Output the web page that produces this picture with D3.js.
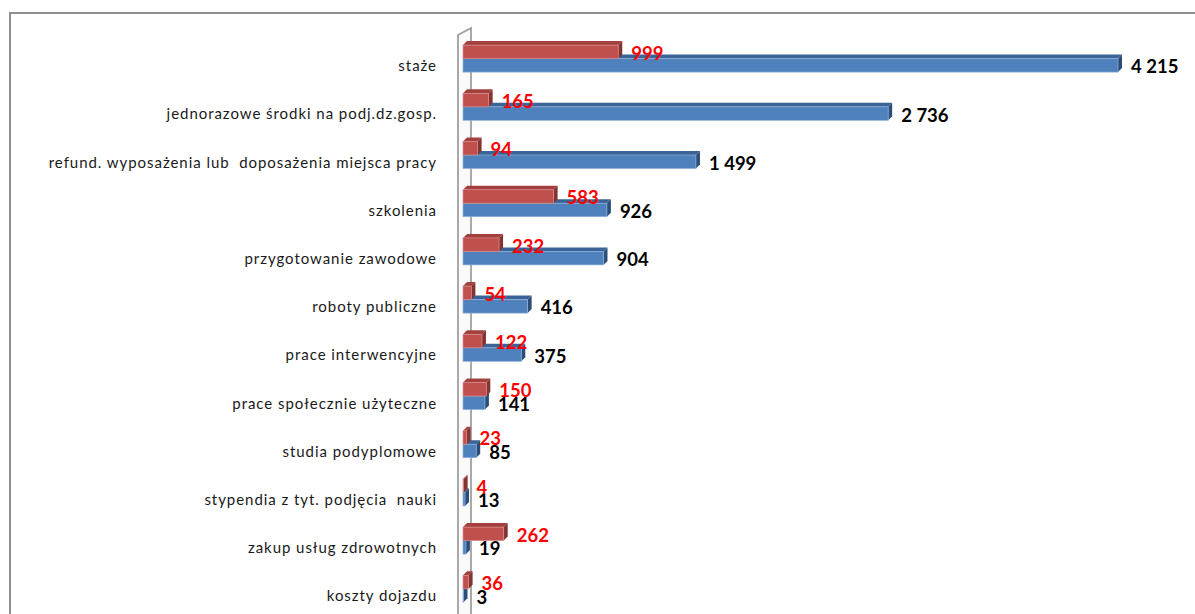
<!DOCTYPE html>
<html lang="pl">
<head>
<meta charset="UTF-8">
<title>Formy aktywizacji</title>
<script src="https://d3js.org/d3.v7.min.js"></script>
<style>
  body { margin: 0; background: #fff; }
  svg { display: block; }
  .cat { font-family: Lato, "Open Sans", sans-serif; font-size: 15px; fill: #1a1a1a; letter-spacing: 0.95px; white-space: pre; }
  .val { font-family: Lato, "Open Sans", sans-serif; font-size: 18.5px; font-weight: bold; }
</style>
</head>
<body>
<svg id="chart" width="1195" height="614"></svg>
<script>
// categories, top to bottom
const categories = [
  "staże",
  "jednorazowe środki na podj.dz.gosp.",
  "refund. wyposażenia lub  doposażenia miejsca pracy",
  "szkolenia",
  "przygotowanie zawodowe",
  "roboty publiczne",
  "prace interwencyjne",
  "prace społecznie użyteczne",
  "studia podyplomowe",
  "stypendia z tyt. podjęcia  nauki",
  "zakup usług zdrowotnych",
  "koszty dojazdu"
];
const blueValues = [4215, 2736, 1499, 926, 904, 416, 375, 141, 85, 13, 19, 3];
const redValues  = [999, 165, 94, 583, 232, 54, 122, 150, 23, 4, 262, 36];

const svg = d3.select("#chart");
const D = 4; // 3d depth offset

const x = d3.scaleLinear().domain([0, 4215]).range([463, 1118]);
const y = d3.scaleBand().domain(categories).range([41, 41 + 12 * 48.2]);
const inner = d3.scaleBand().domain(["red", "blue"]).range([-20, 7]);

const fmt = v => d3.format(",")(v).replace(/,/g, " ");

// outer frame
svg.append("path")
  .attr("d", "M10,620 V13 H1200")
  .attr("fill", "none").attr("stroke", "#8f8f8f").attr("stroke-width", 2);

// side wall
svg.append("path")
  .attr("d", "M458,620 V35 L471,28 V620")
  .attr("fill", "#fafafa").attr("stroke", "#a0a0a0").attr("stroke-width", 1.8);

const colors = {
  blue: { front: "#4F81BD", top: "#3A6497", end: "#2C4D78", edge: "#8FB0DA" },
  red:  { front: "#C0504D", top: "#A3403D", end: "#853331", edge: "#D98C8A" }
};

function bar3d(g, x0, x1, yTop, h, c) {
  g.append("path")
    .attr("d", `M${x0},${yTop} L${x0 + D},${yTop - D} L${x1 + D},${yTop - D} L${x1},${yTop} Z`)
    .attr("fill", c.top);
  g.append("path")
    .attr("d", `M${x1},${yTop} L${x1 + D},${yTop - D} L${x1 + D},${yTop + h - D} L${x1},${yTop + h} Z`)
    .attr("fill", c.end);
  g.append("rect")
    .attr("x", x0).attr("y", yTop).attr("width", Math.max(x1 - x0, 0)).attr("height", h)
    .attr("fill", c.front).attr("stroke", c.edge).attr("stroke-width", 0.7);
}

categories.forEach((cat, i) => {
  const cy = y(cat) + y.bandwidth() / 2;
  const g = svg.append("g");
  // blue first, red drawn over it
  const yb = cy + inner("blue");
  bar3d(g, x(0), x(blueValues[i]), yb, inner.bandwidth(), colors.blue);
  const yr = cy + inner("red");
  bar3d(g, x(0), x(redValues[i]), yr, inner.bandwidth(), colors.red);

  svg.append("text").attr("class", "cat")
    .attr("x", 437).attr("y", cy)
    .attr("text-anchor", "end").attr("dominant-baseline", "central")
    .text(cat);

  svg.append("text").attr("class", "val")
    .attr("x", x(blueValues[i]) + D + 9).attr("y", yb + inner.bandwidth() / 2 + 1)
    .attr("dominant-baseline", "central").attr("fill", "#000")
    .text(fmt(blueValues[i]));

  svg.append("text").attr("class", "val")
    .attr("x", x(redValues[i]) + D + 9).attr("y", yr + inner.bandwidth() / 2 + 1)
    .attr("dominant-baseline", "central").attr("fill", "#FF0000")
    .text(fmt(redValues[i]));
});
</script>
</body>
</html>
